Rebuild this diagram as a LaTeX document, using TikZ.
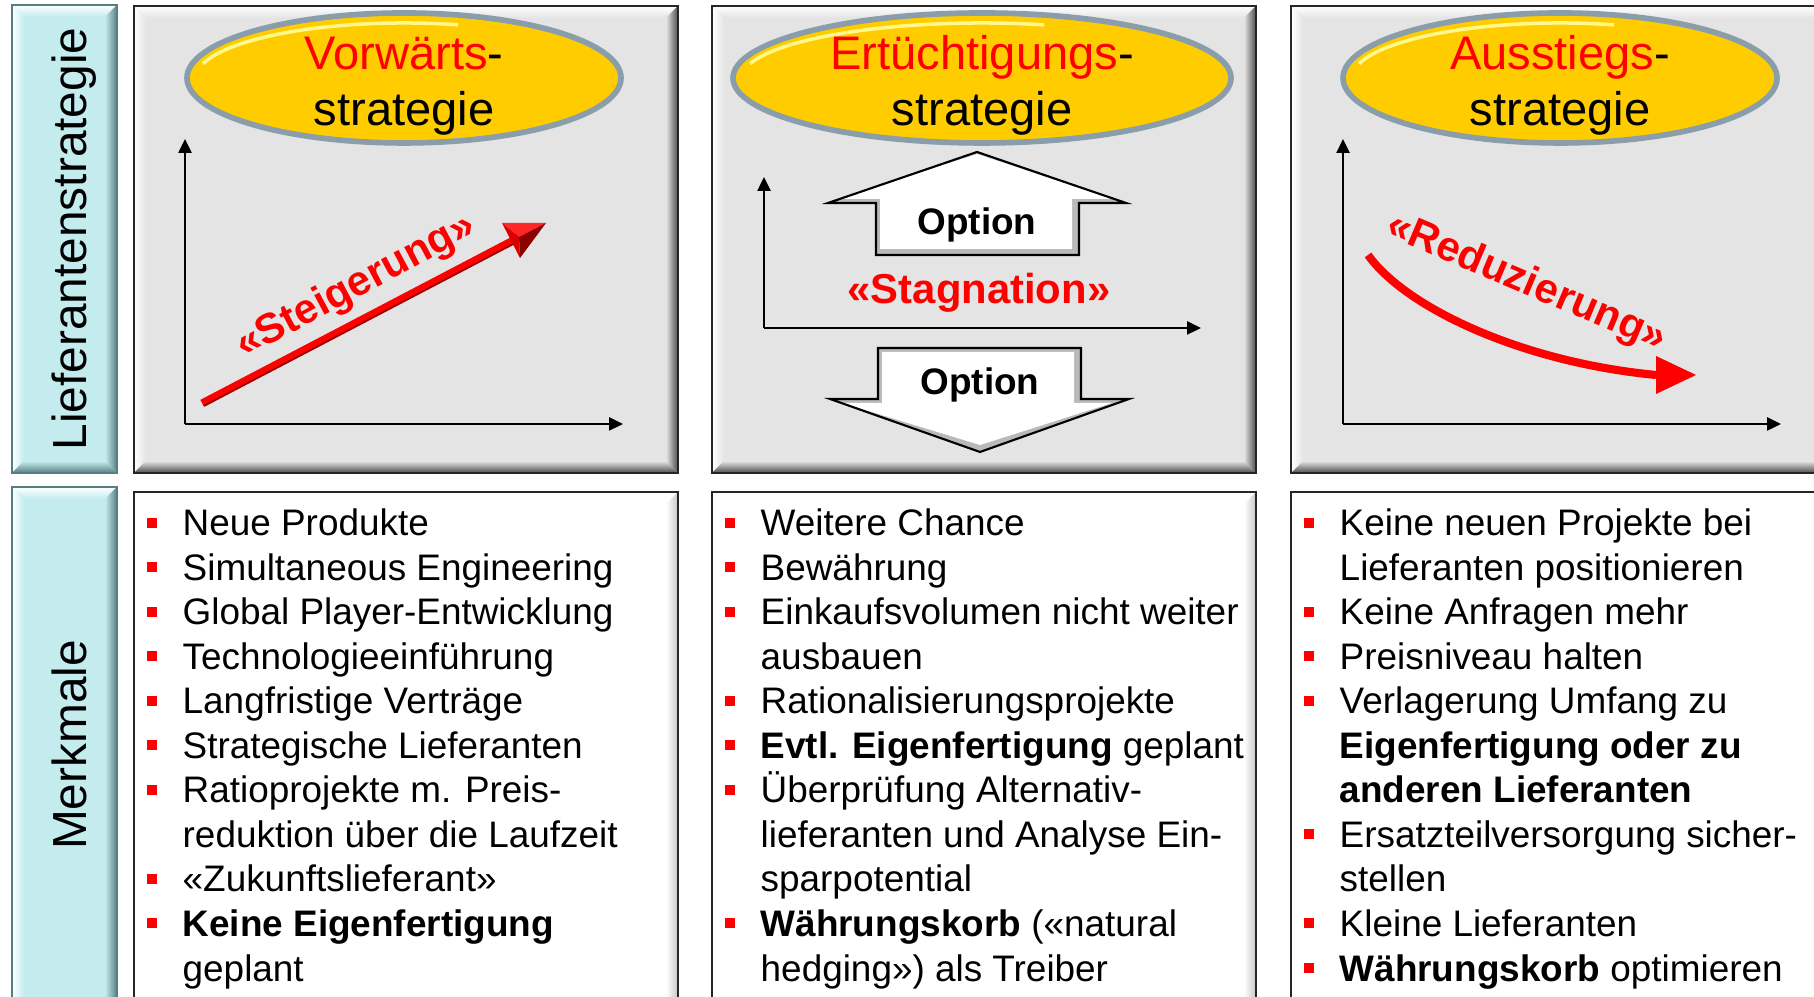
\documentclass[tikz,border=0pt]{standalone}
\usepackage{fontspec}
\setmainfont{Liberation Sans}
\usetikzlibrary{arrows.meta}

\definecolor{panelgray}{HTML}{E4E4E4}
\definecolor{labelcyan}{HTML}{C4ECEF}
\definecolor{labeldark}{HTML}{587E82}
\definecolor{ovalyellow}{HTML}{FFCC00}
\definecolor{ovalrim}{HTML}{8A9DAA}

\tikzset{
every node/.style={inner sep=0pt},
axis/.style={line width=0.7pt, -{Triangle[length=0.14cm,width=0.13cm]}},
oval/.style={draw=ovalrim, line width=1.6pt, fill=ovalyellow},
title/.style={anchor=base, font=\fontsize{13.4}{16}\selectfont},
side/.style={rotate=90, anchor=base, font=\fontsize{13.6}{16}\selectfont},
item/.style={anchor=base west, font=\fontsize{10.5}{12.6}\selectfont},
trend/.style={anchor=base, text=red, font=\bfseries\fontsize{11.9}{14}\selectfont},
option/.style={anchor=base, font=\bfseries\fontsize{10.5}{12}\selectfont},
optarrow/.style={draw=black, line width=0.6pt}
}

% box with bevelled edges: x1, y1, x2, y2, fill, dark edge, frame
\newcommand\bevelbox[7]{%
  \fill[#5] (#1,#2) rectangle (#3,#4);
  \shade[top color=white, bottom color=#5] (#1,#4) -- (#3,#4) -- ({#3-0.12},{#4-0.12}) -- ({#1+0.12},{#4-0.12}) -- cycle;
  \shade[left color=white, right color=#5] (#1,#2) -- (#1,#4) -- ({#1+0.12},{#4-0.12}) -- ({#1+0.12},{#2+0.12}) -- cycle;
  \shade[left color=#5, right color=#6] (#3,#2) -- (#3,#4) -- ({#3-0.12},{#4-0.12}) -- ({#3-0.12},{#2+0.12}) -- cycle;
  \shade[top color=#5, bottom color=#6] (#1,#2) -- (#3,#2) -- ({#3-0.12},{#2+0.12}) -- ({#1+0.12},{#2+0.12}) -- cycle;
  \draw[#7, line width=0.8pt] (#1,#2) rectangle (#3,#4);
}

\begin{document}
\begin{tikzpicture}
\clip (0,0) rectangle (18.14,9.97);
\fill[white] (0,0) rectangle (18.14,9.97);

% row labels
\bevelbox{0.12}{5.24}{1.17}{9.92}{labelcyan}{labeldark}{labeldark}
\bevelbox{0.12}{-0.3}{1.17}{5.10}{labelcyan}{labeldark}{labeldark}
\node[side] (rowtop) at (0.86,7.58) {Lieferantenstrategie};
\node[side] (rowbot) at (0.86,2.52) {Merkmale};

% panels
\foreach \xa/\xb in {1.34/6.78, 7.12/12.56, 12.91/18.40}{
  \bevelbox{\xa}{5.24}{\xb}{9.91}{panelgray}{gray!60!black}{black!85}
  \bevelbox{\xa}{-0.3}{\xb}{5.05}{white}{gray!45}{black!85}
}

% strategy ovals
\foreach \cx/\rx in {4.04/2.17, 9.82/2.49, 15.60/2.17}{
  \draw[oval] (\cx,9.19) ellipse [x radius=\rx, y radius=0.65];
  \draw[yellow!45!white, line width=1pt] ([shift={(165:{\rx-0.09} and 0.55)}]\cx,9.19)
    arc [start angle=165, end angle=75, x radius={\rx-0.09}, y radius=0.55];
}
\node[title] (vorA) at (4.04,9.27) {\textcolor{red}{Vorwärts}-};
\node[title] (vorB) at (4.04,8.71) {strategie};
\node[title] (ertA) at (9.82,9.27) {\textcolor{red}{Ertüchtigungs}-};
\node[title] (ertB) at (9.82,8.71) {strategie};
\node[title] (ausA) at (15.60,9.27) {\textcolor{red}{Ausstiegs}-};
\node[title] (ausB) at (15.60,8.71) {strategie};

% axes
\coordinate (o1) at (1.85,5.73);
\coordinate (o2) at (7.64,6.69);
\coordinate (o3) at (13.43,5.73);
\draw[axis] (o1) -- (1.85,8.58);
\draw[axis] (o1) -- (6.23,5.73);
\draw[axis] (o2) -- (7.64,8.20);
\draw[axis] (o2) -- (12.01,6.69);
\draw[axis] (o3) -- (13.43,8.58);
\draw[axis] (o3) -- (17.81,5.73);

% rising trend
\coordinate (s0) at (2.02,5.94);
\coordinate (s1) at (5.19,7.60);
\draw[red, line width=2pt] (s0) -- (s1);
\draw[red!60!black, line width=0.5pt] ([shift={(0.02,-0.03)}]s0) -- ([shift={(0.02,-0.03)}]s1);
\coordinate (hA) at (5.02,7.74);
\coordinate (hB) at (5.46,7.74);
\coordinate (hC) at (5.20,7.39);
\fill[red!85!white] (hA) -- (hB) -- (s1) -- cycle;
\fill[red!85!black] (hA) -- (hC) -- (s1) -- cycle;
\fill[red!55!black] (hB) -- (hC) -- (s1) -- cycle;
\node[trend, rotate=28] (steig) at (3.61,7.01) {«Steigerung»};

% stagnation with both options
\fill[gray!55] (8.76,7.42) -- (8.76,7.94) -- (8.28,7.94) -- (9.77,8.45) -- (11.26,7.94) -- (10.79,7.94) -- (10.79,7.42) -- cycle;
\fill[white] (8.80,7.48) -- (8.80,7.98) -- (8.38,7.98) -- (9.77,8.43) -- (11.12,7.98) -- (10.72,7.98) -- (10.72,7.48) -- cycle;
\draw[optarrow] (8.76,7.42) -- (8.76,7.94) -- (8.28,7.94) -- (9.77,8.45) -- (11.26,7.94) -- (10.79,7.94) -- (10.79,7.42) -- cycle;
\node[option] (optup) at (9.77,7.62) {Option};
\node[trend] (stag) at (9.79,6.93) {«Stagnation»};
\fill[gray!55] (8.78,6.49) -- (10.81,6.49) -- (10.81,5.98) -- (11.29,5.98) -- (9.80,5.45) -- (8.30,5.98) -- (8.78,5.98) -- cycle;
\fill[white] (8.82,6.45) -- (10.74,6.45) -- (10.74,5.94) -- (11.12,5.94) -- (9.80,5.52) -- (8.42,5.94) -- (8.82,5.94) -- cycle;
\draw[optarrow] (8.78,6.49) -- (10.81,6.49) -- (10.81,5.98) -- (11.29,5.98) -- (9.80,5.45) -- (8.30,5.98) -- (8.78,5.98) -- cycle;
\node[option] (optdown) at (9.80,6.02) {Option};

% falling trend
\coordinate (r0) at (13.68,7.42);
\coordinate (r1) at (16.56,6.22);
\draw[red, line width=2.3pt] (r0) .. controls (14.05,6.90) and (15.20,6.35) .. (r1);
\fill[red] (16.56,6.41) -- (16.96,6.22) -- (16.56,6.03) -- cycle;
\node[trend, rotate=-23] (reduz) at (15.22,7.04) {«Reduzierung»};

% feature lists
\foreach \bl/\txt [count=\i from 0] in {1/Neue Produkte, 1/Simultaneous Engineering,
    1/Global Player-Entwicklung, 1/Technologieeinführung, 1/Langfristige Verträge,
    1/Strategische Lieferanten, 1/Ratioprojekte m. Preis-, 0/reduktion über die Laufzeit,
    1/«Zukunftslieferant», 1/{\textbf{Keine Eigenfertigung}}, 0/geplant}{
  \node[item] (vor\i) at (1.82,{4.61-0.445*\i}) {\txt};
  \ifnum\bl=1 \fill[red] (1.47,{4.69-0.445*\i}) rectangle ++(0.10,0.10); \fi
}
\foreach \bl/\txt [count=\i from 0] in {1/Weitere Chance, 1/Bewährung,
    1/Einkaufsvolumen nicht weiter, 0/ausbauen, 1/Rationalisierungsprojekte,
    1/{\textbf{Evtl. Eigenfertigung} geplant}, 1/Überprüfung Alternativ-,
    0/lieferanten und Analyse Ein-, 0/sparpotential,
    1/{\textbf{Währungskorb} («natural}, 0/hedging») als Treiber}{
  \node[item] (ert\i) at (7.60,{4.61-0.445*\i}) {\txt};
  \ifnum\bl=1 \fill[red] (7.25,{4.69-0.445*\i}) rectangle ++(0.10,0.10); \fi
}
\foreach \bl/\txt [count=\i from 0] in {1/Keine neuen Projekte bei, 0/Lieferanten positionieren,
    1/Keine Anfragen mehr, 1/Preisniveau halten, 1/Verlagerung Umfang zu,
    0/{\textbf{Eigenfertigung oder zu}}, 0/{\textbf{anderen Lieferanten}},
    1/Ersatzteilversorgung sicher-, 0/stellen, 1/Kleine Lieferanten,
    1/{\textbf{Währungskorb} optimieren}}{
  \node[item] (aus\i) at (13.39,{4.61-0.445*\i}) {\txt};
  \ifnum\bl=1 \fill[red] (13.04,{4.69-0.445*\i}) rectangle ++(0.10,0.10); \fi
}
\end{tikzpicture}
\end{document}
